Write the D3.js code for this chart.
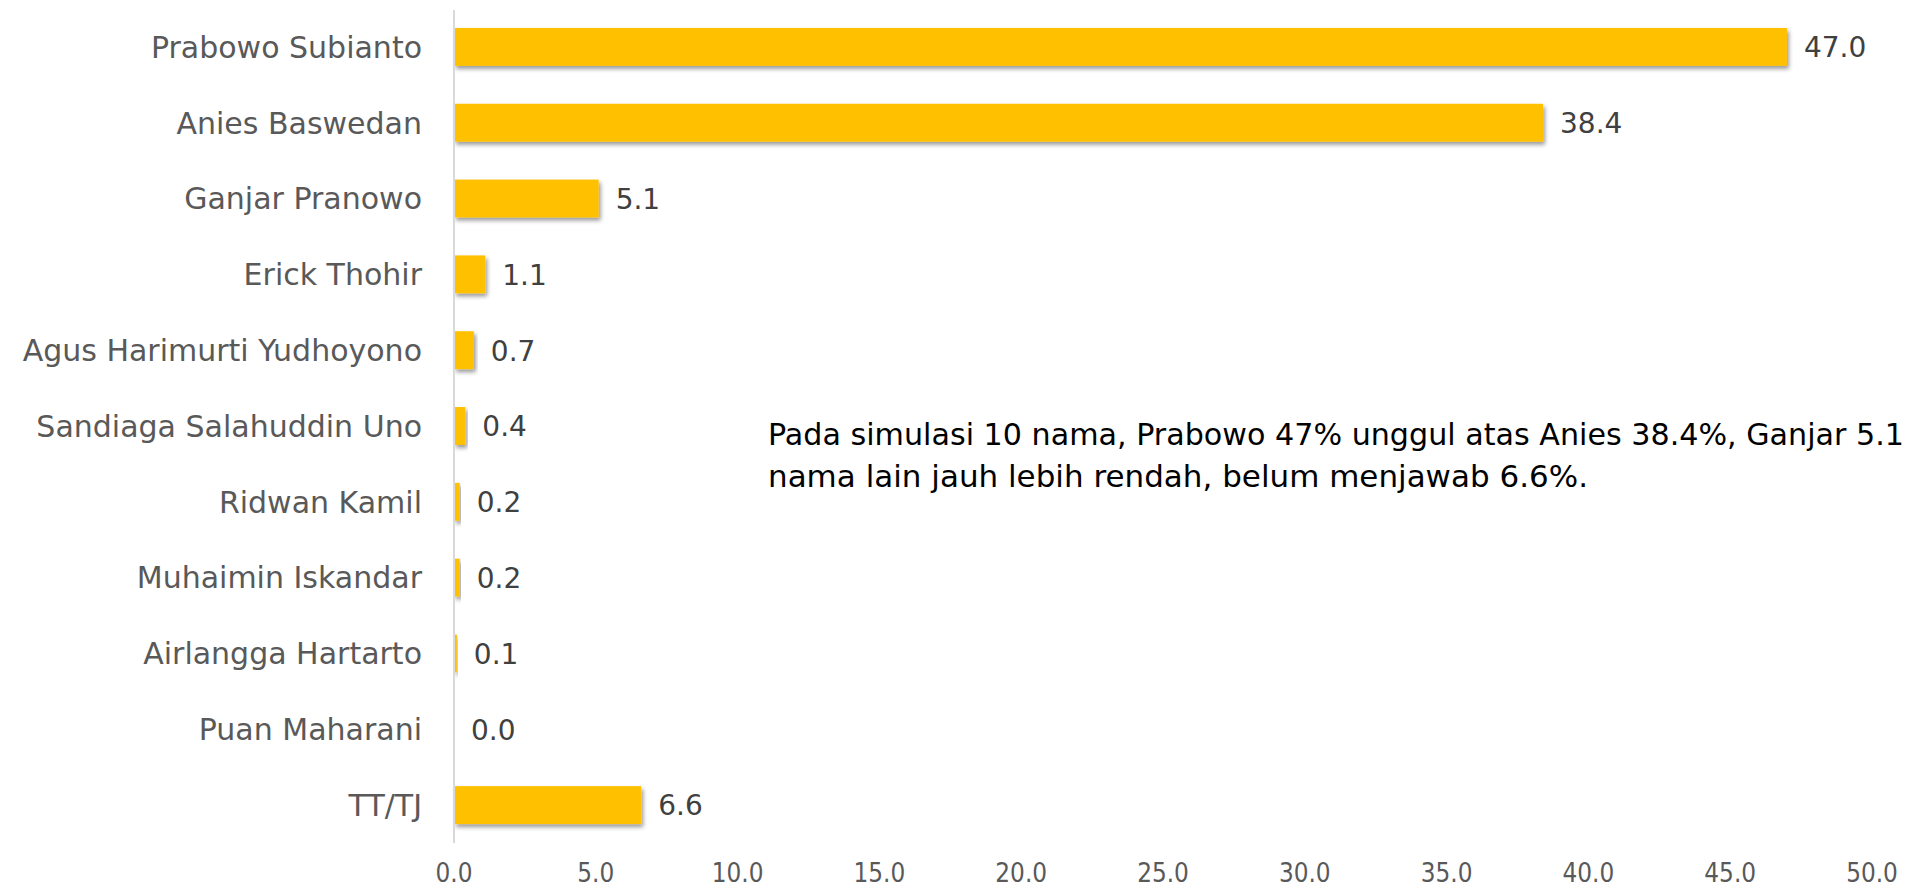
<!DOCTYPE html>
<html>
<head>
<meta charset="utf-8">
<script src="https://cdn.jsdelivr.net/npm/d3@7"></script>
<style>
  html, body { margin: 0; padding: 0; background: #fff; overflow: hidden; }
  svg { display: block; font-family: "DejaVu Sans", sans-serif; }
</style>
</head>
<body>
<div id="chart"></div>
<script>
// chart data
const names = [
  "Prabowo Subianto", "Anies Baswedan", "Ganjar Pranowo", "Erick Thohir",
  "Agus Harimurti Yudhoyono", "Sandiaga Salahuddin Uno", "Ridwan Kamil",
  "Muhaimin Iskandar", "Airlangga Hartarto", "Puan Maharani", "TT/TJ"
];
const values = [47.0, 38.4, 5.1, 1.1, 0.7, 0.4, 0.2, 0.2, 0.1, 0.0, 6.6];
const xTicks = [0, 5, 10, 15, 20, 25, 30, 35, 40, 45, 50];
const noteLines = [
  "Pada simulasi 10 nama, Prabowo 47% unggul atas Anies 38.4%, Ganjar 5.1",
  "nama lain jauh lebih rendah, belum menjawab 6.6%."
];

const width = 1908;
const height = 890;
const margin = { top: 9, right: 36, bottom: 47, left: 454 };

const svg = d3.select("#chart")
  .append("svg")
  .attr("width", width)
  .attr("height", height);

// soft shadow under the bars
const defs = svg.append("defs");
const shadow = defs.append("filter")
  .attr("id", "barShadow")
  .attr("x", "-10%").attr("y", "-30%")
  .attr("width", "130%").attr("height", "180%");
shadow.append("feDropShadow")
  .attr("dx", 2)
  .attr("dy", 3)
  .attr("stdDeviation", 2)
  .attr("flood-color", "#000")
  .attr("flood-opacity", 0.4);

const x = d3.scaleLinear()
  .domain([0, 50])
  .range([margin.left, width - margin.right]);

const y = d3.scaleBand()
  .domain(names)
  .range([margin.top, height - margin.bottom])
  .paddingInner(0.5)
  .paddingOuter(0.25);

// bars
svg.append("g")
  .selectAll("rect")
  .data(values)
  .enter().append("rect")
  .attr("x", x(0))
  .attr("y", (d, i) => y(names[i]))
  .attr("width", d => x(d) - x(0))
  .attr("height", y.bandwidth())
  .attr("fill", "#FFC000")
  .attr("filter", d => d > 0 ? "url(#barShadow)" : null);

// vertical axis line
svg.append("line")
  .attr("x1", x(0)).attr("x2", x(0))
  .attr("y1", margin.top + 1)
  .attr("y2", height - margin.bottom)
  .attr("stroke", "#d9d9d9")
  .attr("stroke-width", 2);

// category labels
svg.append("g")
  .selectAll("text")
  .data(names)
  .enter().append("text")
  .attr("x", x(0) - 32)
  .attr("y", d => y(d) + y.bandwidth() / 2)
  .attr("dy", "0.36em")
  .attr("text-anchor", "end")
  .attr("fill", "#595959")
  .style("font-size", "30px")
  .text(d => d);

// value labels
svg.append("g")
  .selectAll("text")
  .data(values)
  .enter().append("text")
  .attr("x", d => x(d) + 17)
  .attr("y", (d, i) => y(names[i]) + y.bandwidth() / 2)
  .attr("dy", "0.37em")
  .attr("fill", "#404040")
  .style("font-size", "28px")
  .text(d => d.toFixed(1));

// x tick labels (narrow look)
const tickText = svg.append("g")
  .selectAll("text")
  .data(xTicks)
  .enter().append("text")
  .attr("x", d => x(d))
  .attr("y", 882)
  .attr("text-anchor", "middle")
  .attr("fill", "#595959")
  .style("font-size", "27px")
  .text(d => d.toFixed(1));
tickText.each(function () {
  const w = this.getComputedTextLength();
  d3.select(this)
    .attr("textLength", w * 0.86)
    .attr("lengthAdjust", "spacingAndGlyphs");
});

// annotation
const noteWidths = [1136, 820];
svg.append("g")
  .selectAll("text")
  .data(noteLines)
  .enter().append("text")
  .attr("x", 768)
  .attr("y", (d, i) => 445 + i * 42)
  .attr("fill", "#000")
  .style("font-size", "30px")
  .attr("textLength", (d, i) => noteWidths[i])
  .attr("lengthAdjust", "spacingAndGlyphs")
  .text(d => d);
</script>
</body>
</html>
